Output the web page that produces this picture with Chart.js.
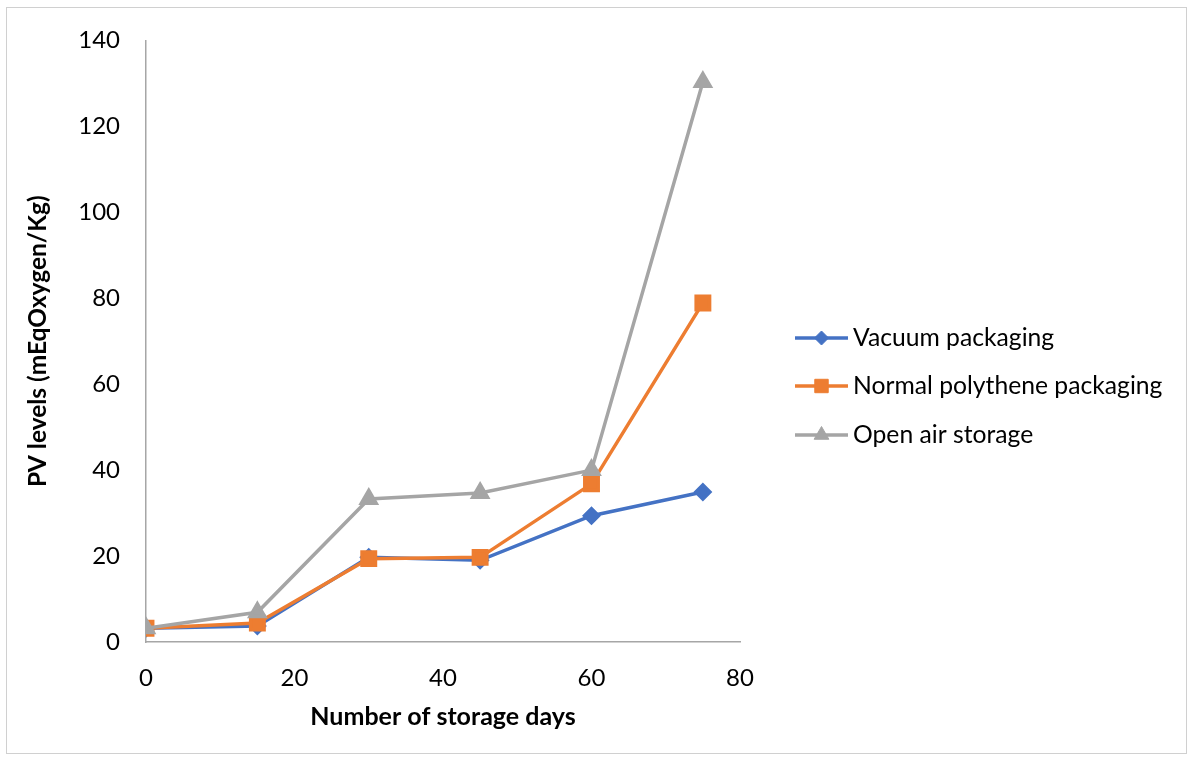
<!DOCTYPE html>
<html>
<head>
<meta charset="utf-8">
<script src="https://cdn.jsdelivr.net/npm/chart.js@4.4.1/dist/chart.umd.min.js"></script>
<style>
  html, body { margin: 0; padding: 0; background: #fff; }
  #wrap { position: relative; width: 1192px; height: 760px; }
  #frame { position: absolute; left: 6px; top: 7px; width: 1179px; height: 745px; border: 1px solid #d0d0d0; pointer-events: none; }
</style>
</head>
<body>
<div id="wrap">
  <canvas id="pvChart" width="1192" height="760"></canvas>
  <div id="frame"></div>
</div>
<script>
const days = [0, 15, 30, 45, 60, 75];
const vacuum = [3.2, 3.7, 19.7, 19.0, 29.4, 34.9];
const polythene = [3.2, 4.4, 19.4, 19.7, 36.8, 78.9];
const openAir = [3.2, 6.9, 33.3, 34.7, 40.0, 130.3];
const xTicks = [0, 20, 40, 60, 80];
const yTicks = [0, 20, 40, 60, 80, 100, 120, 140];

const fontFamily = 'Lato, Carlito, Calibri, sans-serif';
const axisColor = '#a6a6a6';
const textColor = '#000000';

const toPoints = vals => vals.map((v, i) => ({ x: days[i], y: v }));

// legend drawn as line + marker, Excel style
const sideLegend = {
  id: 'sideLegend',
  afterDraw(chart) {
    const ctx = chart.ctx;
    const x0 = 795, x1 = 848, tx = 853;
    const rows = [338, 386, 435];
    ctx.save();
    chart.data.datasets.forEach((ds, i) => {
      const y = rows[i];
      ctx.strokeStyle = ds.borderColor;
      ctx.lineWidth = 3.5;
      ctx.beginPath();
      ctx.moveTo(x0, y);
      ctx.lineTo(x1, y);
      ctx.stroke();
      ctx.fillStyle = ds.pointBackgroundColor;
      ctx.strokeStyle = ds.pointBackgroundColor;
      ctx.lineWidth = 1;
      Chart.helpers.drawPoint(ctx, {
        pointStyle: ds.pointStyle,
        radius: ds.pointRadius,
        rotation: 0,
        borderWidth: 1
      }, (x0 + x1) / 2, y);
      ctx.fillStyle = textColor;
      ctx.font = '24.7px ' + fontFamily;
      ctx.textBaseline = 'middle';
      ctx.textAlign = 'left';
      ctx.fillText(ds.label, tx, y);
    });
    ctx.restore();
  }
};

new Chart(document.getElementById('pvChart'), {
  type: 'line',
  data: {
    datasets: [
      {
        label: 'Vacuum packaging',
        data: toPoints(vacuum),
        borderColor: '#4472C4',
        backgroundColor: '#4472C4',
        pointBackgroundColor: '#4472C4',
        pointBorderColor: '#4472C4',
        pointStyle: 'rectRot',
        pointRadius: 7,
        borderWidth: 3.5,
        order: 3
      },
      {
        label: 'Normal polythene packaging',
        data: toPoints(polythene),
        borderColor: '#ED7D31',
        backgroundColor: '#ED7D31',
        pointBackgroundColor: '#ED7D31',
        pointBorderColor: '#ED7D31',
        pointStyle: 'rect',
        pointRadius: 9.5,
        borderWidth: 3.5,
        order: 2
      },
      {
        label: 'Open air storage',
        data: toPoints(openAir),
        borderColor: '#A5A5A5',
        backgroundColor: '#A5A5A5',
        pointBackgroundColor: '#A5A5A5',
        pointBorderColor: '#A5A5A5',
        pointStyle: 'triangle',
        pointRadius: 8.5,
        borderWidth: 3.5,
        order: 1
      }
    ]
  },
  options: {
    responsive: false,
    animation: false,
    layout: { padding: { top: 34, right: 452, bottom: 0, left: 0 } },
    plugins: {
      legend: { display: false },
      tooltip: { enabled: false }
    },
    scales: {
      x: {
        type: 'linear',
        min: 0,
        max: 80,
        afterBuildTicks: s => { s.ticks = xTicks.map(v => ({ value: v })); },
        afterFit: s => { s.height = 118; },
        ticks: { color: textColor, font: { family: fontFamily, size: 24 }, padding: 22 },
        grid: { display: false, drawTicks: false },
        border: { display: true, color: axisColor, width: 1.5 },
        title: {
          display: true,
          text: 'Number of storage days',
          color: textColor,
          font: { family: fontFamily, size: 25, weight: 'bold' },
          padding: { top: 0, bottom: 28 }
        }
      },
      y: {
        min: 0,
        max: 140,
        afterBuildTicks: s => { s.ticks = yTicks.map(v => ({ value: v })); },
        afterFit: s => { s.width = 146; },
        ticks: { color: textColor, font: { family: fontFamily, size: 24 }, padding: 26 },
        grid: { display: false, drawTicks: false },
        border: { display: true, color: axisColor, width: 1.5 },
        title: {
          display: true,
          text: 'PV levels (mEqOxygen/Kg)',
          color: textColor,
          font: { family: fontFamily, size: 24.5, weight: 'bold' },
          padding: { top: 23, bottom: 0 }
        }
      }
    }
  },
  plugins: [sideLegend]
});
</script>
</body>
</html>
